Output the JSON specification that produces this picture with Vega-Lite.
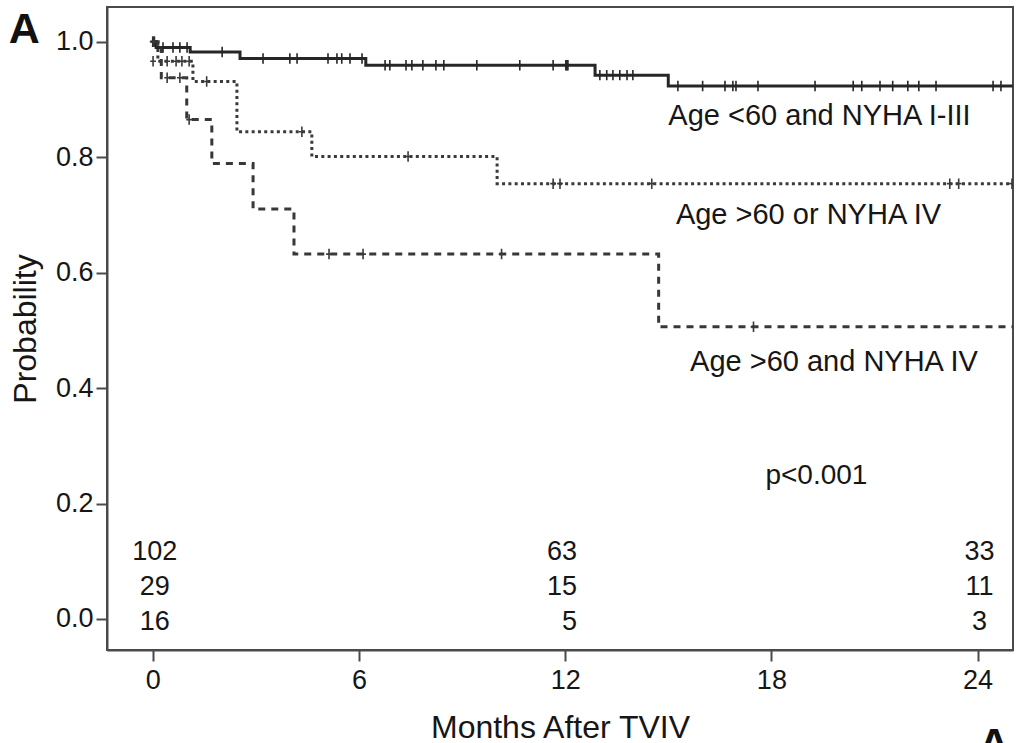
{
  "$schema": "https://vega.github.io/schema/vega-lite/v6.json",
  "width": 906,
  "height": 643,
  "autosize": {"type": "none"},
  "padding": {"left": 107, "top": 7, "right": 4, "bottom": 93},
  "background": "white",
  "config": {
    "font": "Liberation Sans",
    "view": {"stroke": "#4a4a4a", "strokeWidth": 2},
    "axis": {
      "grid": false,
      "domainColor": "#4a4a4a",
      "domainWidth": 2,
      "tickColor": "#4a4a4a",
      "tickWidth": 2,
      "tickSize": 11,
      "labelFont": "Liberation Sans",
      "labelFontSize": 27,
      "labelColor": "#161616",
      "titleFont": "Liberation Sans",
      "titleFontSize": 32,
      "titleFontWeight": "normal",
      "titleColor": "#161616"
    }
  },
  "datasets": {
    "curves": [
      {"group": "Age <60 and NYHA I-III", "month": 0, "surv": 1.0},
      {"group": "Age <60 and NYHA I-III", "month": 0.1, "surv": 0.99},
      {"group": "Age <60 and NYHA I-III", "month": 1.09, "surv": 0.982},
      {"group": "Age <60 and NYHA I-III", "month": 2.54, "surv": 0.971},
      {"group": "Age <60 and NYHA I-III", "month": 6.2, "surv": 0.959},
      {"group": "Age <60 and NYHA I-III", "month": 12.87, "surv": 0.942},
      {"group": "Age <60 and NYHA I-III", "month": 15.0, "surv": 0.923},
      {"group": "Age <60 and NYHA I-III", "month": 25.5, "surv": 0.923},
      {"group": "Age >60 or NYHA IV", "month": 0, "surv": 1.0},
      {"group": "Age >60 or NYHA IV", "month": 0.15, "surv": 0.966},
      {"group": "Age >60 or NYHA IV", "month": 1.17, "surv": 0.931},
      {"group": "Age >60 or NYHA IV", "month": 2.45, "surv": 0.844},
      {"group": "Age >60 or NYHA IV", "month": 4.63, "surv": 0.801},
      {"group": "Age >60 or NYHA IV", "month": 10.02, "surv": 0.754},
      {"group": "Age >60 or NYHA IV", "month": 25.5, "surv": 0.754},
      {"group": "Age >60 and NYHA IV", "month": 0, "surv": 1.0},
      {"group": "Age >60 and NYHA IV", "month": 0.25, "surv": 0.9375},
      {"group": "Age >60 and NYHA IV", "month": 0.99, "surv": 0.865},
      {"group": "Age >60 and NYHA IV", "month": 1.72, "surv": 0.789},
      {"group": "Age >60 and NYHA IV", "month": 2.92, "surv": 0.71},
      {"group": "Age >60 and NYHA IV", "month": 4.11, "surv": 0.632},
      {"group": "Age >60 and NYHA IV", "month": 14.72, "surv": 0.506},
      {"group": "Age >60 and NYHA IV", "month": 25.5, "surv": 0.506}
    ],
    "censored": [
      {"group": "Age <60 and NYHA I-III", "month": 0.0, "surv": 1.0},
      {"group": "Age <60 and NYHA I-III", "month": 0.05, "surv": 1.0},
      {"group": "Age <60 and NYHA I-III", "month": 0.3, "surv": 0.99},
      {"group": "Age <60 and NYHA I-III", "month": 0.59, "surv": 0.99},
      {"group": "Age <60 and NYHA I-III", "month": 0.79, "surv": 0.99},
      {"group": "Age <60 and NYHA I-III", "month": 1.0, "surv": 0.99},
      {"group": "Age <60 and NYHA I-III", "month": 2.02, "surv": 0.982},
      {"group": "Age <60 and NYHA I-III", "month": 3.21, "surv": 0.971},
      {"group": "Age <60 and NYHA I-III", "month": 3.99, "surv": 0.971},
      {"group": "Age <60 and NYHA I-III", "month": 4.2, "surv": 0.971},
      {"group": "Age <60 and NYHA I-III", "month": 5.1, "surv": 0.971},
      {"group": "Age <60 and NYHA I-III", "month": 5.36, "surv": 0.971},
      {"group": "Age <60 and NYHA I-III", "month": 5.5, "surv": 0.971},
      {"group": "Age <60 and NYHA I-III", "month": 5.74, "surv": 0.971},
      {"group": "Age <60 and NYHA I-III", "month": 6.09, "surv": 0.971},
      {"group": "Age <60 and NYHA I-III", "month": 6.76, "surv": 0.959},
      {"group": "Age <60 and NYHA I-III", "month": 6.9, "surv": 0.959},
      {"group": "Age <60 and NYHA I-III", "month": 7.37, "surv": 0.959},
      {"group": "Age <60 and NYHA I-III", "month": 7.54, "surv": 0.959},
      {"group": "Age <60 and NYHA I-III", "month": 7.86, "surv": 0.959},
      {"group": "Age <60 and NYHA I-III", "month": 8.24, "surv": 0.959},
      {"group": "Age <60 and NYHA I-III", "month": 8.47, "surv": 0.959},
      {"group": "Age <60 and NYHA I-III", "month": 9.43, "surv": 0.959},
      {"group": "Age <60 and NYHA I-III", "month": 10.68, "surv": 0.959},
      {"group": "Age <60 and NYHA I-III", "month": 11.65, "surv": 0.959},
      {"group": "Age <60 and NYHA I-III", "month": 12.02, "surv": 0.959},
      {"group": "Age <60 and NYHA I-III", "month": 12.05, "surv": 0.959},
      {"group": "Age <60 and NYHA I-III", "month": 12.08, "surv": 0.959},
      {"group": "Age <60 and NYHA I-III", "month": 13.01, "surv": 0.942},
      {"group": "Age <60 and NYHA I-III", "month": 13.21, "surv": 0.942},
      {"group": "Age <60 and NYHA I-III", "month": 13.39, "surv": 0.942},
      {"group": "Age <60 and NYHA I-III", "month": 13.59, "surv": 0.942},
      {"group": "Age <60 and NYHA I-III", "month": 13.8, "surv": 0.942},
      {"group": "Age <60 and NYHA I-III", "month": 13.97, "surv": 0.942},
      {"group": "Age <60 and NYHA I-III", "month": 15.28, "surv": 0.923},
      {"group": "Age <60 and NYHA I-III", "month": 16.0, "surv": 0.923},
      {"group": "Age <60 and NYHA I-III", "month": 16.65, "surv": 0.923},
      {"group": "Age <60 and NYHA I-III", "month": 16.88, "surv": 0.923},
      {"group": "Age <60 and NYHA I-III", "month": 16.97, "surv": 0.923},
      {"group": "Age <60 and NYHA I-III", "month": 17.61, "surv": 0.923},
      {"group": "Age <60 and NYHA I-III", "month": 19.27, "surv": 0.923},
      {"group": "Age <60 and NYHA I-III", "month": 20.38, "surv": 0.923},
      {"group": "Age <60 and NYHA I-III", "month": 20.63, "surv": 0.923},
      {"group": "Age <60 and NYHA I-III", "month": 21.16, "surv": 0.923},
      {"group": "Age <60 and NYHA I-III", "month": 21.53, "surv": 0.923},
      {"group": "Age <60 and NYHA I-III", "month": 21.97, "surv": 0.923},
      {"group": "Age <60 and NYHA I-III", "month": 22.29, "surv": 0.923},
      {"group": "Age <60 and NYHA I-III", "month": 22.79, "surv": 0.923},
      {"group": "Age <60 and NYHA I-III", "month": 24.45, "surv": 0.923},
      {"group": "Age <60 and NYHA I-III", "month": 24.68, "surv": 0.923},
      {"group": "Age >60 or NYHA IV", "month": 0.02, "surv": 1.0},
      {"group": "Age >60 or NYHA IV", "month": 0.01, "surv": 0.966},
      {"group": "Age >60 or NYHA IV", "month": 0.42, "surv": 0.966},
      {"group": "Age >60 or NYHA IV", "month": 0.68, "surv": 0.966},
      {"group": "Age >60 or NYHA IV", "month": 0.85, "surv": 0.966},
      {"group": "Age >60 or NYHA IV", "month": 1.06, "surv": 0.966},
      {"group": "Age >60 or NYHA IV", "month": 1.57, "surv": 0.931},
      {"group": "Age >60 or NYHA IV", "month": 4.34, "surv": 0.844},
      {"group": "Age >60 or NYHA IV", "month": 7.43, "surv": 0.801},
      {"group": "Age >60 or NYHA IV", "month": 11.65, "surv": 0.754},
      {"group": "Age >60 or NYHA IV", "month": 11.85, "surv": 0.754},
      {"group": "Age >60 or NYHA IV", "month": 14.52, "surv": 0.754},
      {"group": "Age >60 or NYHA IV", "month": 23.19, "surv": 0.754},
      {"group": "Age >60 or NYHA IV", "month": 23.45, "surv": 0.754},
      {"group": "Age >60 or NYHA IV", "month": 25.0, "surv": 0.754},
      {"group": "Age >60 and NYHA IV", "month": 0.03, "surv": 1.0},
      {"group": "Age >60 and NYHA IV", "month": 0.42, "surv": 0.9375},
      {"group": "Age >60 and NYHA IV", "month": 0.79, "surv": 0.9375},
      {"group": "Age >60 and NYHA IV", "month": 1.06, "surv": 0.865},
      {"group": "Age >60 and NYHA IV", "month": 5.13, "surv": 0.632},
      {"group": "Age >60 and NYHA IV", "month": 6.12, "surv": 0.632},
      {"group": "Age >60 and NYHA IV", "month": 10.15, "surv": 0.632},
      {"group": "Age >60 and NYHA IV", "month": 17.48, "surv": 0.506}
    ],
    "atrisk": [
      {"group": "Age <60 and NYHA I-III", "month": 0, "n": 102},
      {"group": "Age <60 and NYHA I-III", "month": 12, "n": 63},
      {"group": "Age <60 and NYHA I-III", "month": 24, "n": 33},
      {"group": "Age >60 or NYHA IV", "month": 0, "n": 29},
      {"group": "Age >60 or NYHA IV", "month": 12, "n": 15},
      {"group": "Age >60 or NYHA IV", "month": 24, "n": 11},
      {"group": "Age >60 and NYHA IV", "month": 0, "n": 16},
      {"group": "Age >60 and NYHA IV", "month": 12, "n": 5},
      {"group": "Age >60 and NYHA IV", "month": 24, "n": 3}
    ]
  },
  "layer": [
    {
      "data": {"name": "curves"},
      "mark": {"type": "line", "interpolate": "step-after", "clip": true, "strokeWidth": 3},
      "encoding": {
        "x": {
          "field": "month", "type": "quantitative",
          "scale": {"domain": [-1.33, 25.03], "nice": false, "zero": false},
          "axis": {"values": [0, 6, 12, 18, 24], "format": "d", "labelPadding": 6, "title": "Months After TVIV", "titlePadding": 19}
        },
        "y": {
          "field": "surv", "type": "quantitative",
          "scale": {"domain": [-0.0537, 1.06], "nice": false, "zero": false},
          "axis": {"values": [0, 0.2, 0.4, 0.6, 0.8, 1.0], "format": ".1f", "labelPadding": 3, "title": "Probability", "titlePadding": 13}
        },
        "color": {
          "field": "group", "type": "nominal", "legend": null,
          "scale": {"domain": ["Age <60 and NYHA I-III", "Age >60 or NYHA IV", "Age >60 and NYHA IV"], "range": ["#262626", "#3a3a3a", "#383838"]}
        },
        "strokeDash": {
          "field": "group", "type": "nominal", "legend": null,
          "scale": {"domain": ["Age <60 and NYHA I-III", "Age >60 or NYHA IV", "Age >60 and NYHA IV"], "range": [[1, 0], [3, 3.3], [7, 6]]}
        }
      }
    },
    {
      "data": {"name": "censored"},
      "mark": {"type": "point", "shape": "M0,-1V1M-0.55,0H0.55", "filled": false, "strokeWidth": 1.6, "size": 110, "clip": true, "opacity": 1},
      "encoding": {
        "x": {"field": "month", "type": "quantitative"},
        "y": {"field": "surv", "type": "quantitative"},
        "color": {"field": "group", "type": "nominal", "legend": null}
      }
    },
    {
      "data": {"name": "atrisk"},
      "transform": [{"filter": "datum.group == 'Age <60 and NYHA I-III' && datum.month != 12"}],
      "mark": {"type": "text", "align": "center", "baseline": "middle", "fontSize": 27, "color": "#161616", "dx": 2},
      "encoding": {"x": {"field": "month", "type": "quantitative"}, "y": {"datum": 0.116}, "text": {"field": "n"}}
    },
    {
      "data": {"name": "atrisk"},
      "transform": [{"filter": "datum.group == 'Age <60 and NYHA I-III' && datum.month == 12"}],
      "mark": {"type": "text", "align": "right", "baseline": "middle", "fontSize": 27, "color": "#161616", "dx": 12},
      "encoding": {"x": {"field": "month", "type": "quantitative"}, "y": {"datum": 0.116}, "text": {"field": "n"}}
    },
    {
      "data": {"name": "atrisk"},
      "transform": [{"filter": "datum.group == 'Age >60 or NYHA IV' && datum.month != 12"}],
      "mark": {"type": "text", "align": "center", "baseline": "middle", "fontSize": 27, "color": "#161616", "dx": 2},
      "encoding": {"x": {"field": "month", "type": "quantitative"}, "y": {"datum": 0.0546}, "text": {"field": "n"}}
    },
    {
      "data": {"name": "atrisk"},
      "transform": [{"filter": "datum.group == 'Age >60 or NYHA IV' && datum.month == 12"}],
      "mark": {"type": "text", "align": "right", "baseline": "middle", "fontSize": 27, "color": "#161616", "dx": 12},
      "encoding": {"x": {"field": "month", "type": "quantitative"}, "y": {"datum": 0.0546}, "text": {"field": "n"}}
    },
    {
      "data": {"name": "atrisk"},
      "transform": [{"filter": "datum.group == 'Age >60 and NYHA IV' && datum.month != 12"}],
      "mark": {"type": "text", "align": "center", "baseline": "middle", "fontSize": 27, "color": "#161616", "dx": 2},
      "encoding": {"x": {"field": "month", "type": "quantitative"}, "y": {"datum": -0.0052}, "text": {"field": "n"}}
    },
    {
      "data": {"name": "atrisk"},
      "transform": [{"filter": "datum.group == 'Age >60 and NYHA IV' && datum.month == 12"}],
      "mark": {"type": "text", "align": "right", "baseline": "middle", "fontSize": 27, "color": "#161616", "dx": 12},
      "encoding": {"x": {"field": "month", "type": "quantitative"}, "y": {"datum": -0.0052}, "text": {"field": "n"}}
    },
    {
      "data": {"values": [{}]},
      "mark": {"type": "text", "text": "Age <60 and NYHA I-III", "align": "center", "baseline": "middle", "fontSize": 29, "color": "#161616"},
      "encoding": {"x": {"datum": 19.4}, "y": {"datum": 0.871}}
    },
    {
      "data": {"values": [{}]},
      "mark": {"type": "text", "text": "Age >60 or NYHA IV", "align": "center", "baseline": "middle", "fontSize": 29, "color": "#161616"},
      "encoding": {"x": {"datum": 19.08}, "y": {"datum": 0.7}}
    },
    {
      "data": {"values": [{}]},
      "mark": {"type": "text", "text": "Age >60 and NYHA IV", "align": "center", "baseline": "middle", "fontSize": 29, "color": "#161616"},
      "encoding": {"x": {"datum": 19.82}, "y": {"datum": 0.445}}
    },
    {
      "data": {"values": [{}]},
      "mark": {"type": "text", "text": "p<0.001", "align": "center", "baseline": "middle", "fontSize": 28, "color": "#161616"},
      "encoding": {"x": {"datum": 19.31}, "y": {"datum": 0.248}}
    },
    {
      "data": {"values": [{}]},
      "mark": {"type": "text", "text": "A", "align": "center", "baseline": "alphabetic", "fontSize": 43, "fontWeight": "bold", "color": "#111"},
      "encoding": {"x": {"datum": -3.74}, "y": {"datum": 0.9977}}
    },
    {
      "data": {"values": [{}]},
      "mark": {"type": "text", "text": "A", "align": "center", "baseline": "alphabetic", "fontSize": 43, "fontWeight": "bold", "color": "#111"},
      "encoding": {"x": {"datum": 24.48}, "y": {"datum": -0.24}}
    }
  ]
}
